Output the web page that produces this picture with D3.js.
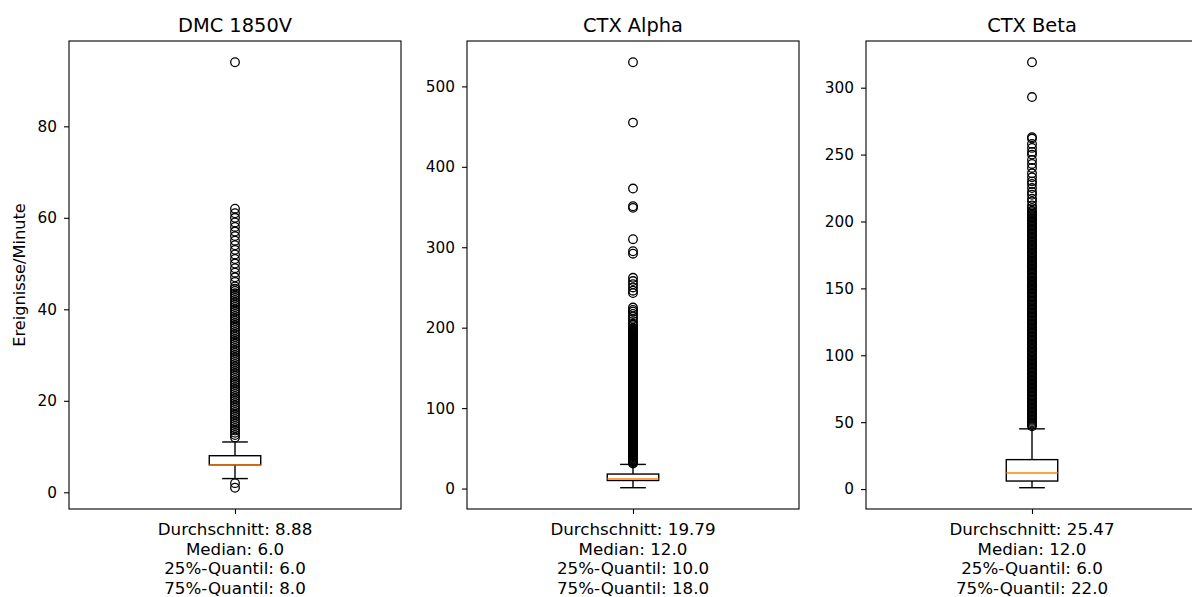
<!DOCTYPE html>
<html>
<head>
<meta charset="utf-8">
<script src="https://cdn.jsdelivr.net/npm/d3@7"></script>
<style>
  body { margin: 0; background: #fff; }
  text { font-family: "DejaVu Sans", sans-serif; fill: #000; }
</style>
</head>
<body>
<div id="chart"></div>
<script>
// Panel titles
var titles = ["DMC 1850V", "CTX Alpha", "CTX Beta"];

// Box statistics per panel
var whiskLow = [3, 1, 1];
var q1 = [6, 10, 6];
var medians = [6, 12, 12];
var q3 = [8, 18, 22];
var whiskHigh = [11, 30, 45];
var means = [8.88, 19.79, 25.47];

// Outliers (fliers) per panel
var dmcOutliers = [1, 2,
  12, 12.5, 13, 13.5, 14, 14.5, 15, 15.5, 16, 16.5, 17, 17.5, 18, 18.5, 19, 19.5,
  20, 20.5, 21, 21.5, 22, 22.5, 23, 23.5, 24, 24.5, 25, 25.5, 26, 26.5, 27, 27.5,
  28, 28.5, 29, 29.5, 30, 30.5, 31, 31.5, 32, 32.5, 33, 33.5, 34, 34.5, 35, 35.5,
  36, 36.5, 37, 37.5, 38, 38.5, 39, 39.5, 40, 40.5, 41, 41.5, 42, 42.5, 43, 43.5,
  44, 44.5, 45, 46, 47, 48, 49, 50, 51, 52, 53, 54, 55, 56, 57, 58, 59, 60, 61, 62,
  94];

var alphaOutliers = [
  31, 32, 33, 34, 35, 36, 37, 38, 39, 40, 41, 42, 43, 44, 45, 46, 47, 48, 49, 50,
  51, 52, 53, 54, 55, 56, 57, 58, 59, 60, 61, 62, 63, 64, 65, 66, 67, 68, 69, 70,
  71, 72, 73, 74, 75, 76, 77, 78, 79, 80, 81, 82, 83, 84, 85, 86, 87, 88, 89, 90,
  91, 92, 93, 94, 95, 96, 97, 98, 99, 100, 101, 102, 103, 104, 105, 106, 107, 108, 109, 110,
  111, 112, 113, 114, 115, 116, 117, 118, 119, 120, 121, 122, 123, 124, 125, 126, 127, 128, 129, 130,
  131, 132, 133, 134, 135, 136, 137, 138, 139, 140, 141, 142, 143, 144, 145, 146, 147, 148, 149, 150,
  151, 152, 153, 154, 155, 156, 157, 158, 159, 160, 161, 162, 163, 164, 165, 166, 167, 168, 169, 170,
  171, 172, 173, 174, 175, 176, 177, 178, 179, 180, 181, 182, 183, 184, 185, 186, 187, 188, 189, 190,
  191, 192, 193, 194, 195, 196, 197, 198, 199, 200,
  203, 205, 208, 211, 214, 217, 220, 222, 225,
  243, 246, 250, 254, 258, 262, 292, 295, 310, 349, 351, 373, 455, 530];

var betaOutliers = [
  47, 48, 49, 50, 51, 52, 53, 54, 55, 56, 57, 58, 59, 60, 61, 62, 63, 64, 65, 66,
  67, 68, 69, 70, 71, 72, 73, 74, 75, 76, 77, 78, 79, 80, 81, 82, 83, 84, 85, 86,
  87, 88, 89, 90, 91, 92, 93, 94, 95, 96, 97, 98, 99, 100, 101, 102, 103, 104, 105, 106,
  107, 108, 109, 110, 111, 112, 113, 114, 115, 116, 117, 118, 119, 120, 121, 122, 123, 124, 125, 126,
  127, 128, 129, 130, 131, 132, 133, 134, 135, 136, 137, 138, 139, 140, 141, 142, 143, 144, 145, 146,
  147, 148, 149, 150, 151, 152, 153, 154, 155, 156, 157, 158, 159, 160, 161, 162, 163, 164, 165, 166,
  167, 168, 169, 170, 171, 172, 173, 174, 175, 176, 177, 178, 179, 180, 181, 182, 183, 184, 185, 186,
  187, 188, 189, 190, 191, 192, 193, 194, 195, 196, 197, 198, 199, 200, 201, 202, 203, 204, 205, 206,
  207, 208,
  210, 212, 215, 217, 220, 222, 225, 228, 230, 233, 236, 240, 243, 246, 250, 252, 255, 258, 262, 263,
  293, 319];

var outliers = [dmcOutliers, alphaOutliers, betaOutliers];

// Y tick values per panel
var yTicks = [
  [0, 20, 40, 60, 80],
  [0, 100, 200, 300, 400, 500],
  [0, 50, 100, 150, 200, 250, 300]
];

var yLabel = "Ereignisse/Minute";

// Layout
var svgWidth = 1192;
var svgHeight = 597;
var panelLeft = [69, 467, 866];
var panelWidth = 332;
var panelTop = 41;
var panelBottom = 509;
var panelHeight = panelBottom - panelTop;
var boxWidth = 0.155;   // in x data units (axis spans 0.5 .. 1.5)
var lw = 1.4;

var svg = d3.select("#chart")
  .append("svg")
  .attr("width", svgWidth)
  .attr("height", svgHeight);

titles.forEach(function(title, i) {
  var g = svg.append("g")
    .attr("transform", `translate(${panelLeft[i]}, ${panelTop})`);

  // matplotlib style limits: data range padded by 5%
  var all = outliers[i].concat([whiskLow[i], whiskHigh[i]]);
  var ext = d3.extent(all);
  var pad = (ext[1] - ext[0]) * 0.05;

  var yScale = d3.scaleLinear()
    .domain([ext[0] - pad, ext[1] + pad])
    .range([panelHeight, 0]);

  var xScale = d3.scaleLinear()
    .domain([0.5, 1.5])
    .range([0, panelWidth]);

  var cx = xScale(1);
  var bx0 = xScale(1 - boxWidth / 2);
  var bx1 = xScale(1 + boxWidth / 2);
  var cap0 = xScale(1 - boxWidth / 4);
  var cap1 = xScale(1 + boxWidth / 4);

  // left axis
  var leftAxis = d3.axisLeft(yScale)
    .tickValues(yTicks[i])
    .tickSize(5)
    .tickPadding(7)
    .tickFormat(d3.format("d"));

  var ya = g.append("g").call(leftAxis);
  ya.select(".domain").remove();
  ya.selectAll("line").attr("stroke", "#000").attr("stroke-width", 1.1);
  ya.selectAll("text")
    .attr("font-size", "15.3px")
    .attr("font-family", "DejaVu Sans")
    .attr("fill", "#000");

  // bottom axis: single tick at centre, label is the stats block
  var bottomAxis = d3.axisBottom(xScale)
    .tickValues([1])
    .tickSize(5)
    .tickFormat("");
  var xa = g.append("g")
    .attr("transform", `translate(0, ${panelHeight})`)
    .call(bottomAxis);
  xa.select(".domain").remove();
  xa.selectAll("line").attr("stroke", "#000").attr("stroke-width", 1.1);

  // whiskers
  g.append("line")
    .attr("x1", cx).attr("x2", cx)
    .attr("y1", yScale(q1[i])).attr("y2", yScale(whiskLow[i]))
    .attr("stroke", "#000").attr("stroke-width", lw);
  g.append("line")
    .attr("x1", cx).attr("x2", cx)
    .attr("y1", yScale(q3[i])).attr("y2", yScale(whiskHigh[i]))
    .attr("stroke", "#000").attr("stroke-width", lw);

  // caps
  [whiskLow[i], whiskHigh[i]].forEach(function(v) {
    g.append("line")
      .attr("x1", cap0).attr("x2", cap1)
      .attr("y1", yScale(v)).attr("y2", yScale(v))
      .attr("stroke", "#000").attr("stroke-width", lw);
  });

  // box
  g.append("rect")
    .attr("x", bx0)
    .attr("y", yScale(q3[i]))
    .attr("width", bx1 - bx0)
    .attr("height", yScale(q1[i]) - yScale(q3[i]))
    .attr("fill", "none")
    .attr("stroke", "#000")
    .attr("stroke-width", lw);

  // median
  g.append("line")
    .attr("x1", bx0).attr("x2", bx1)
    .attr("y1", yScale(medians[i])).attr("y2", yScale(medians[i]))
    .attr("stroke", "#ff7f0e").attr("stroke-width", lw);

  // fliers
  g.selectAll("circle.flier")
    .data(outliers[i])
    .enter()
    .append("circle")
    .attr("class", "flier")
    .attr("cx", cx)
    .attr("cy", d => yScale(d))
    .attr("r", 4.3)
    .attr("fill", "none")
    .attr("stroke", "#000")
    .attr("stroke-width", 1.3);

  // frame
  g.append("rect")
    .attr("width", panelWidth)
    .attr("height", panelHeight)
    .attr("fill", "none")
    .attr("stroke", "#000")
    .attr("stroke-width", 1.1);

  // title
  g.append("text")
    .attr("x", panelWidth / 2)
    .attr("y", -9.5)
    .attr("text-anchor", "middle")
    .attr("font-size", "19.4px")
    .text(title);

  // stats text under the axis
  var lines = [
    "Durchschnitt: " + means[i].toFixed(2),
    "Median: " + medians[i].toFixed(1),
    "25%-Quantil: " + q1[i].toFixed(1),
    "75%-Quantil: " + q3[i].toFixed(1)
  ];
  g.append("g")
    .selectAll("text")
    .data(lines)
    .enter()
    .append("text")
    .attr("x", cx)
    .attr("y", (d, k) => panelHeight + 26 + k * 19.7)
    .attr("text-anchor", "middle")
    .attr("font-size", "16.7px")
    .text(d => d);
});

// y axis label on first panel
svg.append("text")
  .attr("transform", `translate(25, ${panelTop + panelHeight / 2}) rotate(-90)`)
  .attr("text-anchor", "middle")
  .attr("font-size", "16.2px")
  .text(yLabel);
</script>
</body>
</html>
